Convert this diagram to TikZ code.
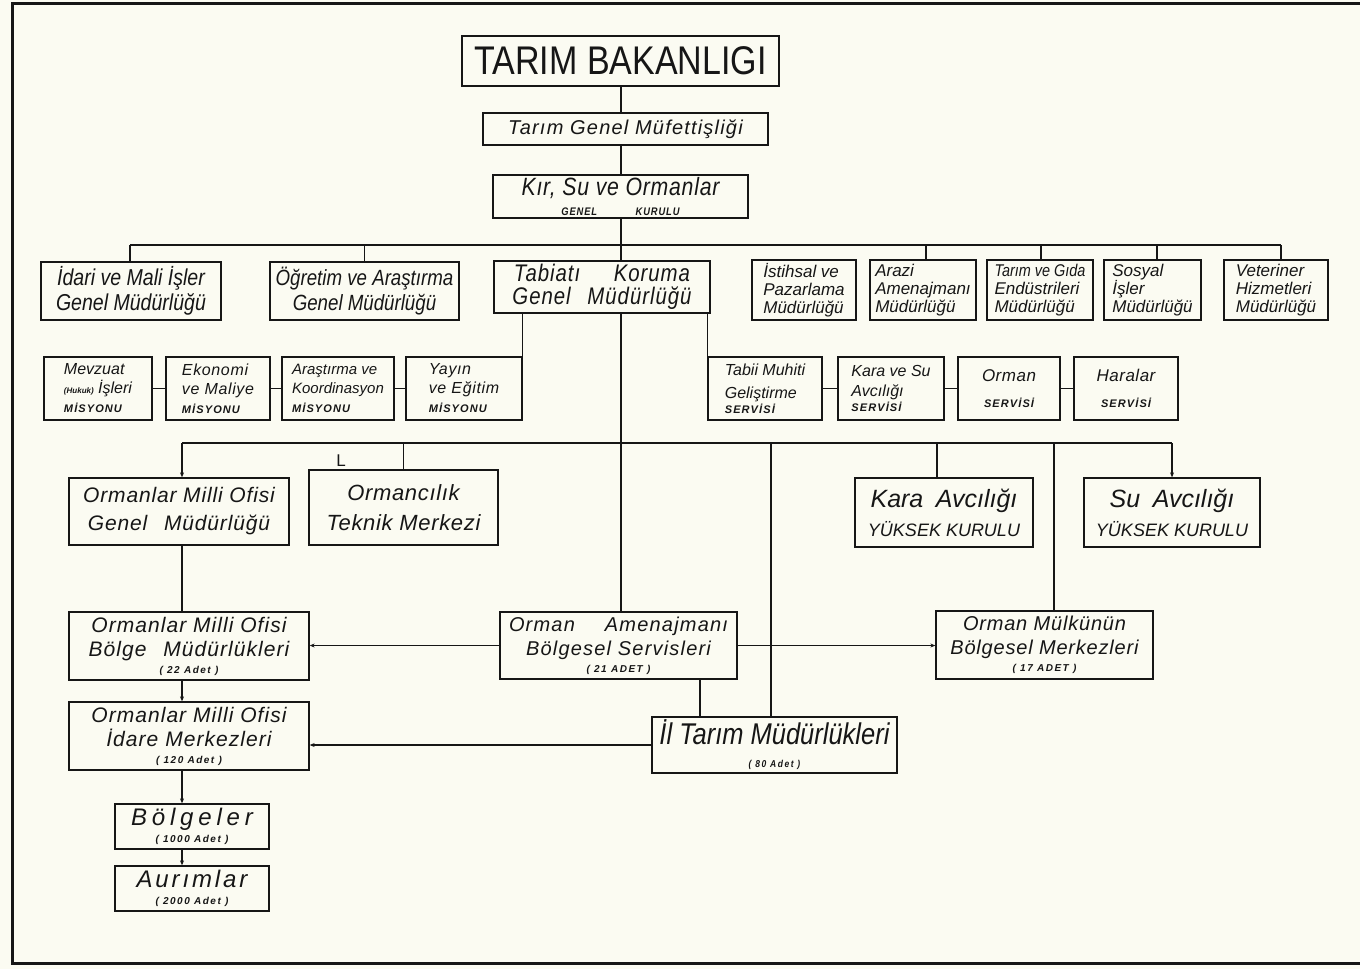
\documentclass[tikz,border=0pt]{standalone}
\usepackage{fontspec}
\setmainfont{Liberation Sans}
\newfontfamily\cond{Liberation Sans}[FakeStretch=0.85]
\usetikzlibrary{arrows.meta}
\definecolor{paper}{RGB}{251,251,242}
\definecolor{ink}{RGB}{22,22,22}
\newcommand\fs[2]{\fontsize{#1}{#2}\selectfont}
\newcommand\lsp[1]{\addfontfeatures{LetterSpace=#1}}
\newcommand\smc{\fontsize{11}{12}\selectfont\bfseries\addfontfeatures{LetterSpace=10}}
\newcommand\cnt{\fontsize{10}{11}\selectfont\bfseries\addfontfeatures{LetterSpace=15}}
\newcommand\B[7]{\node[bx,minimum width={#4pt-#2pt},minimum height={#5pt-#3pt},#6] (#1) at ({(#2+#4)/2},{(#3+#5)/2}) {#7};}
\begin{document}
\begin{tikzpicture}[x=1pt,y=-1pt,
  bx/.style={draw=ink,line width=1.3pt,inner sep=1pt,align=center,text=ink,font=\itshape},
  con/.style={draw=ink,line width=1.4pt},
  arr/.style={con,-{Stealth[length=5pt,width=4pt]}}]
\fill[paper] (0,0) rectangle (1360,969);
\useasboundingbox (0,0) rectangle (1360,969);
\draw[ink,line width=3pt] (1362,3) -- (12,3) -- (12,963) -- (1362,963);

% top
\B{bak}{462}{36}{779}{86}{line width=2pt,font=\cond\upshape\fs{40}{40}}{TARIM BAKANLIGI}
\B{muf}{483}{113}{768}{145}{font=\itshape\fs{20}{22}\lsp{6}}{Tarım Genel Müfettişliği}
\B{kur}{493}{175}{748}{218}{font=\cond\itshape\fs{25}{22}\lsp{3}}{Kır, Su ve Ormanlar\\[-2pt]\fs{11}{11}\bfseries\lsp{8}GENEL\hspace{3.5em}KURULU}

% row 2
\B{idari}{41}{262}{221}{320}{font=\cond\itshape\fs{23}{25}}{İdari ve Mali İşler\\Genel Müdürlüğü}
\B{ogr}{270}{262}{459}{320}{font=\cond\itshape\fs{22}{25}}{Öğretim ve Araştırma\\Genel Müdürlüğü}
\B{tab}{494}{261}{710}{313}{line width=2.6pt,font=\cond\itshape\fs{24}{23}\lsp{4}}{Tabiatı\hspace{1.4em}Koruma\\Genel\hspace{0.7em}Müdürlüğü}
\B{ist}{752}{260}{856}{320}{align=left,font=\itshape\fs{17}{18}}{İstihsal ve\\Pazarlama\\Müdürlüğü}
\B{ara}{870}{260}{976}{320}{align=left,font=\itshape\fs{17}{18}}{Arazi\\Amenajmanı\\Müdürlüğü}
\B{tgi}{987}{260}{1093}{320}{align=left,font=\itshape\fs{17}{18}}{{\cond Tarım ve Gıda}\\Endüstrileri\\Müdürlüğü}
\B{sos}{1104}{260}{1201}{320}{align=left,font=\itshape\fs{17}{18}}{Sosyal\\İşler\\Müdürlüğü}
\B{vet}{1224}{260}{1328}{320}{align=left,font=\itshape\fs{17}{18}}{Veteriner\\Hizmetleri\\Müdürlüğü}

% row 3
\B{mev}{44}{357}{152}{420}{align=left,font=\itshape\fs{16}{19}}{Mevzuat\\{\fs{8}{8}\bfseries(Hukuk)} İşleri\\\smc MİSYONU}
\B{eko}{166}{357}{270}{420}{align=left,font=\itshape\fs{16}{19}\lsp{4}}{Ekonomi\\ve Maliye\\\smc MİSYONU}
\B{ars}{282}{357}{394}{420}{align=left,font=\itshape\fs{15}{19}}{Araştırma ve\\Koordinasyon\\\smc MİSYONU}
\B{yay}{406}{357}{522}{420}{align=left,font=\itshape\fs{16}{19}\lsp{4}}{Yayın\\ve Eğitim\\\smc MİSYONU}
\B{tmg}{708}{357}{822}{420}{align=left,font=\itshape\fs{16}{18}}{Tabii Muhiti\\[5pt]Geliştirme\\[-3pt]\smc SERVİSİ}
\B{kas}{838}{357}{944}{420}{align=left,font=\itshape\fs{16}{18}}{Kara ve Su\\[2pt]Avcılığı\\[-3pt]\smc SERVİSİ}
\B{ors}{958}{357}{1060}{420}{font=\itshape\fs{17}{18}\lsp{3}}{Orman\\[8pt]\smc SERVİSİ}
\B{har}{1074}{357}{1178}{420}{font=\itshape\fs{17}{18}\lsp{3}}{Haralar\\[8pt]\smc SERVİSİ}

% row 4
\B{omg}{69}{478}{289}{545}{font=\itshape\fs{21}{28}\lsp{4}}{Ormanlar Milli Ofisi\\Genel\hspace{0.8em}Müdürlüğü}
\B{otm}{309}{470}{498}{545}{font=\itshape\fs{22}{30}\lsp{3}}{Ormancılık\\Teknik Merkezi}
\B{kav}{855}{478}{1033}{547}{font=\itshape\fs{25}{29}}{Kara\hspace{0.5em}Avcılığı\\\fs{18}{18}YÜKSEK KURULU}
\B{sav}{1084}{478}{1260}{547}{font=\itshape\fs{25}{29}}{Su\hspace{0.5em}Avcılığı\\\fs{18}{18}YÜKSEK KURULU}

% row 5
\B{obm}{69}{612}{309}{680}{font=\itshape\fs{21}{24}\lsp{5}}{Ormanlar Milli Ofisi\\Bölge\hspace{0.8em}Müdürlükleri\\[-7pt]\cnt ( 22 Adet )}
\B{oas}{500}{612}{737}{679}{font=\itshape\fs{20}{24}\lsp{6}}{Orman\hspace{1.5em}Amenajmanı\\Bölgesel Servisleri\\[-7pt]\cnt ( 21 ADET )}
\B{omk}{936}{611}{1153}{679}{font=\itshape\fs{20}{24}\lsp{4}}{Orman Mülkünün\\Bölgesel Merkezleri\\[-7pt]\cnt ( 17 ADET )}

% row 6
\B{oim}{69}{702}{309}{770}{font=\itshape\fs{21}{24}\lsp{5}}{Ormanlar Milli Ofisi\\İdare Merkezleri\\[-7pt]\cnt ( 120 Adet )}
\B{itm}{652}{717}{897}{773}{font=\cond\itshape\fs{30}{28}}{İl Tarım Müdürlükleri\\[-5pt]\cnt ( 80 Adet )}
\B{bol}{115}{804}{269}{849}{font=\itshape\fs{24}{22}}{\lsp{20}Bölgeler\\[-5pt]\cnt ( 1000 Adet )}
\B{aur}{115}{866}{269}{911}{font=\itshape\fs{24}{22}}{\lsp{12}Aurımlar\\[-5pt]\cnt ( 2000 Adet )}

\node[text=ink,font=\fs{17}{17}] (lmark) at (341,461) {L};

% coordinates
\coordinate (b1l) at (130,245);
\coordinate (b1r) at (1281,245);
\coordinate (b1s) at (1157,245);
\coordinate (b1a) at (926,245);
\coordinate (b1t) at (1041,245);
\coordinate (b2l) at (182,443);
\coordinate (b2r) at (1172,443);
\coordinate (d771) at (771,443);
\coordinate (d937) at (937,443);
\coordinate (d1054) at (1054,443);
\coordinate (d700) at (700,700);
\coordinate (m) at (621,0);

% connectors
\draw[con] (bak.south -| m) -- (muf.north -| m);
\draw[con] (muf.south -| m) -- (kur.north -| m);
\draw[con] (kur.south -| m) -- (tab.north -| m);
\draw[con] (b1l) -- (b1r);
\draw[con] (b1l) -- (b1l |- idari.north);
\draw[con] (ogr.north) -- (ogr.north |- b1l);
\draw[con] (b1a) -- (b1a |- ara.north);
\draw[con] (b1t) -- (b1t |- tgi.north);
\draw[con] (b1s) -- (b1s |- sos.north);
\draw[con] (b1r) -- (b1r |- vet.north);

\draw[con] (yay.north east) -- (yay.north east |- tab.south);
\draw[con] (tmg.north west) -- (tmg.north west |- tab.south);
\draw[con] (mev) -- (eko);
\draw[con] (eko) -- (ars);
\draw[con] (ars) -- (yay);
\draw[con] (tmg) -- (kas);
\draw[con] (kas) -- (ors);
\draw[con] (ors) -- (har);

\draw[con] (tab.south -| m) -- (oas.north -| m);
\draw[con] (b2l) -- (b2r);
\draw[arr] (b2l) -- (b2l |- omg.north);
\draw[con] (otm.north |- b2l) -- (otm.north);
\draw[con] (d771) -- (d771 |- itm.north);
\draw[con] (d937) -- (d937 |- kav.north);
\draw[con] (d1054) -- (d1054 |- omk.north);
\draw[arr] (b2r) -- (b2r |- sav.north);

\draw[con] (omg.south -| b2l) -- (obm.north -| b2l);
\draw[arr] (obm.south -| b2l) -- (oim.north -| b2l);
\draw[arr] (oim.south -| b2l) -- (bol.north -| b2l);
\draw[arr] (bol.south -| b2l) -- (aur.north -| b2l);
\draw[arr] (oas.west) -- (oas.west -| obm.east);
\draw[arr] (oas.east) -- (oas.east -| omk.west);
\draw[con] (oas.south -| d700) -- (itm.north -| d700);
\draw[arr] (itm.west) -- (itm.west -| oim.east);
\end{tikzpicture}
\end{document}
